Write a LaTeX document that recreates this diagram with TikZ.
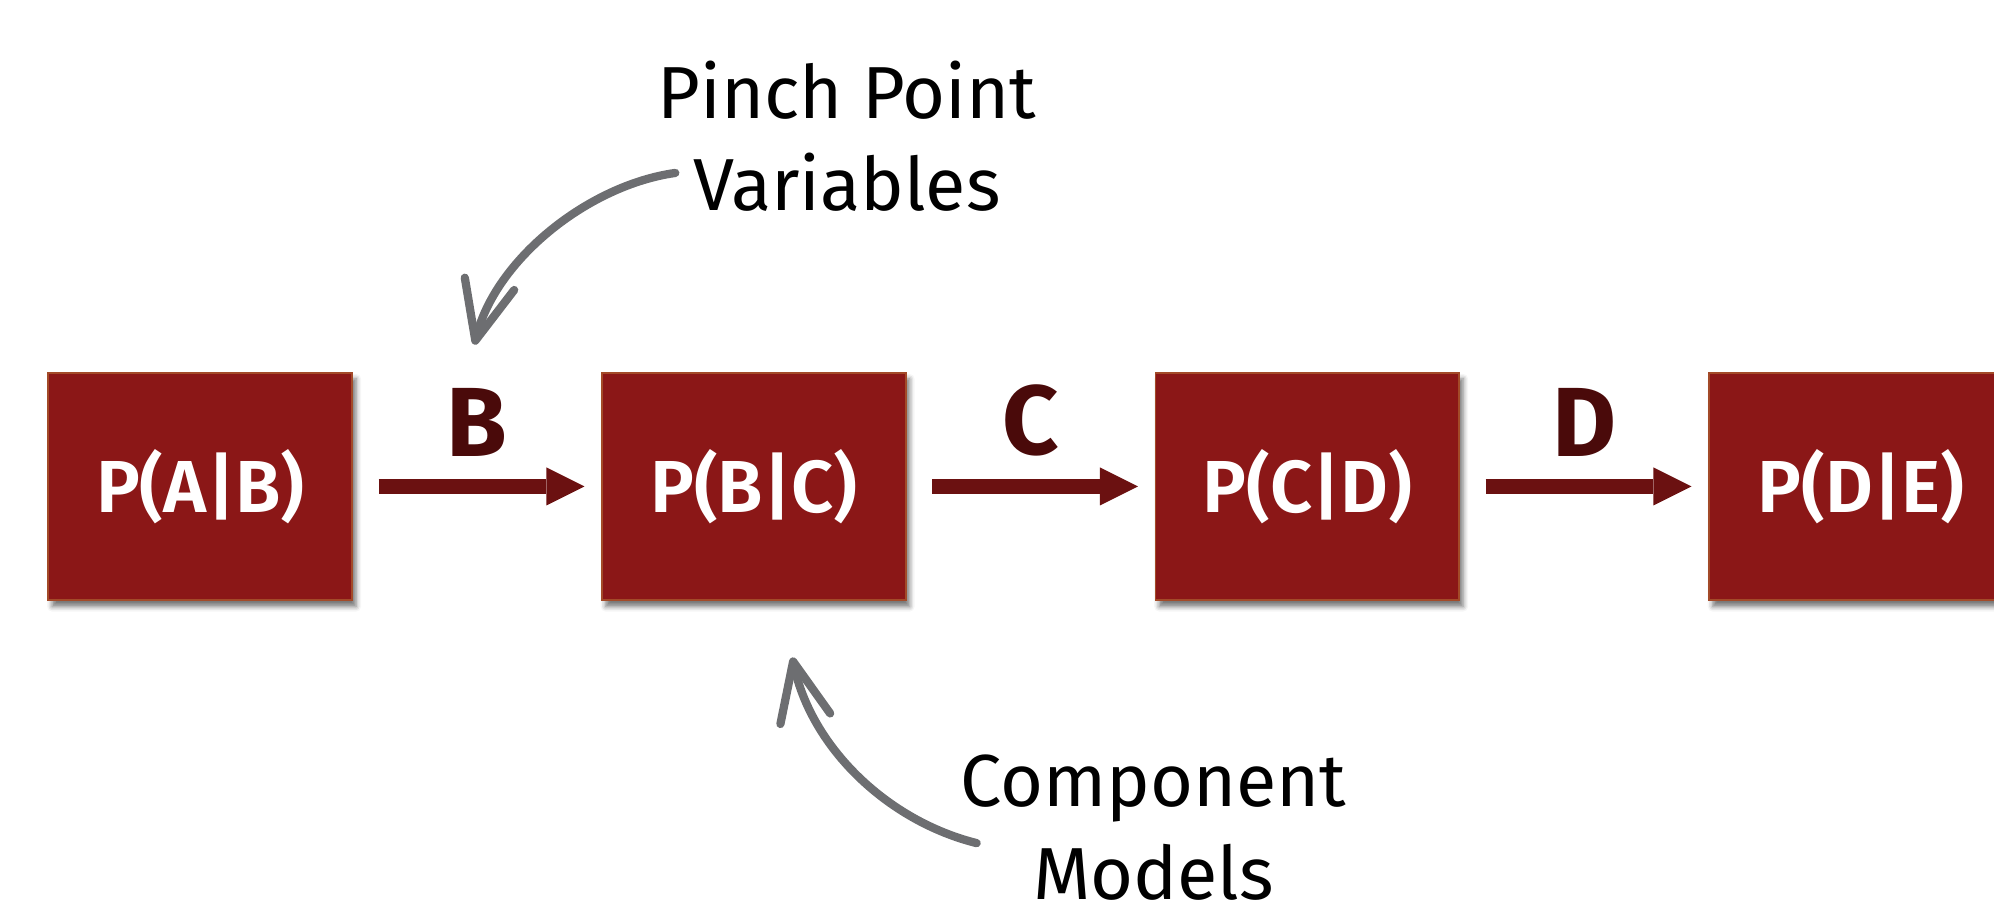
\documentclass[tikz,border=0pt]{standalone}
\usepackage{fontspec}
\setmainfont{Fira Sans}
\newfontfamily\semibold{Fira Sans}[UprightFont = * SemiBold]
\usetikzlibrary{arrows.meta,shadows.blur}

\definecolor{boxred}{HTML}{8B1717}
\definecolor{boxedge}{HTML}{A34A28}
\definecolor{flowred}{HTML}{6B1111}
\definecolor{varred}{HTML}{4A0A0A}
\definecolor{notegray}{HTML}{6D6E71}

\begin{document}
\begin{tikzpicture}[
            x = 0.02cm, y = 0.02cm,
            model/.style = {
                draw = boxedge, fill = boxred,
                line width = 0.8pt,
                text = white,
                font = \fontsize{33}{40}\semibold,
                minimum width = 4.78cm,
                minimum height = 3.58cm,
                blur shadow = {shadow xshift = 0.06cm, shadow yshift = -0.1cm,
                    shadow blur radius = 0.08cm, shadow opacity = 55},
                node distance = 8.707cm,
            },
            flow/.style = {
                color = flowred, line width = 0.23cm,
                -{Triangle[length = 0.6cm, width = 0.6cm, line width = 0pt]},
                shorten <= 0.4cm,
                shorten >= 0.26cm,
            },
            var/.style = {
                text = varred, inner sep = 0pt,
                above = 0.36cm,
                font = \fontsize{44}{50}\selectfont\bfseries,
            },
            note/.style = {
                align = center, inner sep = 0pt,
                font = \fontsize{33}{41.5}\selectfont,
            },
            pointer/.style = {
                color = notegray, line width = 0.13cm, line cap = round,
                -{Straight Barb[length = 0.92cm, width = 0.8cm, round]},
            },
        ]

        \useasboundingbox (0,0) rectangle (1568,707);

        % Modellen
        \node[model] (pab) at (157.5,324.5) {P(A|B)};
        \node[model, right of = pab] (pbc) {P(B|C)};
        \node[model, right of = pbc] (pcd) {P(C|D)};
        \node[model, right of = pcd] (pde) {P(D|E)};

        % Variabelen
        \path
            (pab) edge[flow] node[var] {B} (pbc)
            (pbc) edge[flow] node[var] {C} (pcd)
            (pcd) edge[flow] node[var] {D} (pde);

        % Notities
        \node[note] (pinch) at (666,600) {Pinch Point\\Variables};
        \node[note] (component) at (907,56) {Component\\Models};

        \coordinate (pinch_tail) at (531,571);
        \coordinate (pinch_tip) at (373,436);
        \coordinate (component_tail) at (768,44);
        \coordinate (component_tip) at (623,190);

        \draw[pointer] (pinch_tail) to[out = 188, in = 76, looseness = 0.85] (pinch_tip);
        \draw[pointer] (component_tail) to[out = 166, in = -78, looseness = 0.9] (component_tip);
    \end{tikzpicture}
\end{document}
